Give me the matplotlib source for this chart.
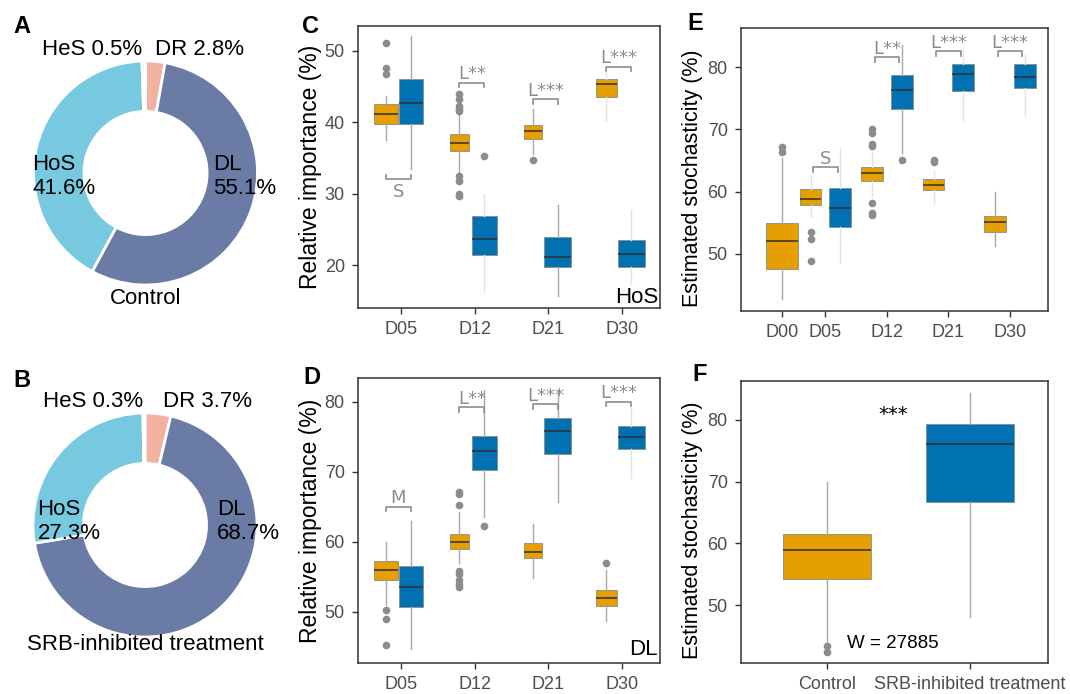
import matplotlib
matplotlib.use("Agg")
import matplotlib.pyplot as plt

plt.rcParams['font.family'] = ['Liberation Sans', 'DejaVu Sans']

W, H = 1070, 694

# ---- donut data (A, B)
parts = ['DR', 'DL', 'HoS', 'HeS']
control_pct = [2.8, 55.1, 41.6, 0.5]
srb_pct = [3.7, 68.7, 27.3, 0.3]
part_colors = ['#F2B2A0', '#6A7BA6', '#77C9DF', '#F7E1DA']

# ---- box stats: (whislo, q1, median, q3, whishi, outliers)
days_cd = ['D05', 'D12', 'D21', 'D30']
hos_ctrl = [
    (37.5, 39.7, 41.1, 42.5, 43.6, [51.1, 47.6, 46.7]),
    (33.0, 36.0, 37.1, 38.3, 41.2, [43.9, 43.2, 42.2, 41.8, 41.5, 32.5, 31.7, 30.0, 29.7]),
    (35.6, 37.6, 38.75, 39.55, 41.8, [34.7]),
    (40.2, 43.55, 45.3, 46.1, 47.3, []),
]
hos_srb = [
    (33.4, 39.8, 42.7, 46.0, 52.1, []),
    (16.3, 21.4, 23.7, 26.9, 30.0, [35.2]),
    (15.6, 19.7, 21.15, 23.95, 28.4, []),
    (17.4, 19.7, 21.5, 23.5, 27.7, []),
]
dl_ctrl = [
    (50.95, 54.6, 55.95, 57.25, 59.9, [50.2, 49.0, 45.3]),
    (56.9, 58.95, 59.9, 61.1, 64.3, [67.1, 66.8, 65.3, 55.8, 55.4, 54.5, 54.0, 53.6]),
    (54.8, 57.7, 58.6, 59.8, 62.5, []),
    (48.7, 50.8, 52.0, 53.1, 56.0, [56.9]),
]
dl_srb = [
    (44.6, 50.6, 53.6, 56.5, 63.0, []),
    (63.6, 70.3, 72.9, 75.1, 81.7, [62.2]),
    (65.7, 72.6, 75.8, 77.7, 81.7, []),
    (69.1, 73.3, 75.0, 76.5, 79.1, []),
]

days_e = ['D00', 'D05', 'D12', 'D21', 'D30']
sto_ctrl = [
    (42.7, 47.6, 52.0, 54.9, 65.4, [67.1, 66.3]),
    (56.0, 57.9, 58.8, 60.45, 62.5, [53.6, 52.4, 48.8]),
    (59.3, 61.75, 63.0, 63.9, 66.5, [70.0, 69.4, 67.7, 67.4, 58.15, 56.65, 56.3]),
    (58.15, 60.3, 61.1, 62.05, 63.3, [65.1, 64.7]),
    (51.3, 53.6, 55.05, 56.15, 59.9, []),
]
sto_srb = [
    None,
    (48.6, 54.4, 57.45, 60.55, 67.0, []),
    (66.2, 73.25, 76.35, 78.75, 83.6, [65.1]),
    (71.5, 76.2, 78.9, 80.55, 82.8, []),
    (72.3, 76.7, 78.4, 80.55, 82.0, []),
]

groups_f = ['Control', 'SRB-inhibited treatment']
sto_total = [
    (44.0, 54.2, 58.9, 61.45, 69.9, [43.4, 42.4]),
    (48.1, 66.65, 76.1, 79.35, 84.4, []),
]

# significance marks: (group index, bracket height, label)
sig_c = [(0, 32.0, 'S'), (1, 45.5, 'L**'), (2, 43.2, 'L***'), (3, 47.75, 'L***')]
sig_d = [(0, 65.0, 'M'), (1, 79.2, 'L**'), (2, 79.65, 'L***'), (3, 80.0, 'L***')]
sig_e = [(1, 63.9, 'S'), (2, 81.6, 'L**'), (3, 82.5, 'L***'), (4, 82.5, 'L***')]

ORANGE = '#E69F00'
BLUE = '#0072B2'
GREY = '#8C8C8C'


def px_axes(l, t, r, b):
    return fig.add_axes([l / W, 1 - b / H, (r - l) / W, (b - t) / H])


def style_axes(ax):
    for s in ax.spines.values():
        s.set_color('#333333')
        s.set_linewidth(1.1)
    ax.tick_params(length=4.5, width=1, color='#333333', pad=5,
                   labelsize=13, labelcolor='#4D4D4D')


def draw_box(ax, st, pos, width, color, faint=False):
    lo, q1, med, q3, hi, fl = st
    stats = [dict(whislo=lo, q1=q1, med=med, q3=q3, whishi=hi, fliers=fl)]
    ax.bxp(stats, positions=[pos], widths=[width], patch_artist=True,
           showcaps=False, manage_ticks=False,
           boxprops=dict(facecolor=color, edgecolor='#8A8A8A', linewidth=0.6),
           medianprops=dict(color='#2F2F2F', linewidth=1.1),
           whiskerprops=dict(color='#E3E3E3' if faint else '#A8A8A8', linewidth=1.0),
           flierprops=dict(marker='o', markerfacecolor=GREY,
                           markeredgecolor='none', markersize=5.5))


def bracket(ax, x0, x1, y, label, up=True):
    y0, y1 = ax.get_ylim()
    hpx = ax.get_position().height * H
    t = 4.5 * (y1 - y0) / hpx
    d = -t if up else t
    ax.plot([x0, x0, x1, x1], [y + d, y, y, y + d], color=GREY, lw=1.2)
    ax.annotate(label, ((x0 + x1) / 2, y), xytext=(0, 2.5 if up else -3),
                textcoords='offset points', ha='center',
                va='baseline' if up else 'top', fontsize=13, color=GREY,
                family='DejaVu Sans')


fig = plt.figure(figsize=(W / 100, H / 100), dpi=100)

# ---- donuts
donuts = [(control_pct, 'Control', 145.5, 173, -1.12,
           [(-1.01, -0.03), (0.60, -0.03)], (-0.03, 0.085)),
          (srb_pct, 'SRB-inhibited treatment', 145, 525, -1.07,
           [(-0.96, 0.03), (0.64, 0.03)], (-0.02, 0.16))]
R = 112
for pct, title, cx, cy, ty, mid_pos, top_x in donuts:
    ax = px_axes(cx - R, cy - R, cx + R, cy + R)
    ax.pie(pct, colors=part_colors, startangle=90, counterclock=False, radius=1,
           wedgeprops=dict(width=0.45, edgecolor='white', linewidth=2))
    ax.set_xlim(-1, 1)
    ax.set_ylim(-1, 1)
    ax.set_aspect('equal')
    ax.axis('off')
    ax.text(mid_pos[0][0], mid_pos[0][1], f'{parts[2]}\n{pct[2]}%', ha='left',
            va='center', fontsize=16, linespacing=1.2)
    ax.text(mid_pos[1][0], mid_pos[1][1], f'{parts[1]}\n{pct[1]}%', ha='left',
            va='center', fontsize=16, linespacing=1.2)
    ax.text(top_x[0], 1.107, f'{parts[3]} {pct[3]}%', ha='right', va='center', fontsize=16)
    ax.text(top_x[1], 1.107, f'{parts[0]} {pct[0]}%', ha='left', va='center', fontsize=16)
    ax.text(0, ty, title, ha='center', va='center', fontsize=16)

# ---- C and D
w_ctrl = [0.33, 0.25, 0.25, 0.29]
w_srb = [0.33, 0.34, 0.37, 0.37]
faint_srb_c = [False, True, False, True]
faint_ctrl_c = [False, False, False, True]
faint_srb_d = [False, False, False, True]

panels_cd = [
    (px_axes(358, 26, 660, 308), hos_ctrl, hos_srb, (13.98, 53.46), [20, 30, 40, 50],
     sig_c, 'HoS', faint_ctrl_c, faint_srb_c, 0.018),
    (px_axes(358, 378, 660, 663), dl_ctrl, dl_srb, (42.67, 83.39), [50, 60, 70, 80],
     sig_d, 'DL', [False] * 4, faint_srb_d, 0.028),
]
for ax, ctrl, srb, ylim, yt, sig, tag, fc, fs, tag_y in panels_cd:
    ax.set_xlim(0.41, 4.52)
    ax.set_ylim(*ylim)
    for i in range(len(days_cd)):
        draw_box(ax, ctrl[i], i + 1 - 0.21, w_ctrl[i], ORANGE, fc[i])
        draw_box(ax, srb[i], i + 1 + 0.13, w_srb[i], BLUE, fs[i])
    ax.set_xticks(range(1, len(days_cd) + 1))
    ax.set_xticklabels(days_cd)
    ax.set_yticks(yt)
    style_axes(ax)
    ax.set_ylabel('Relative importance (%)', fontsize=16.5)
    ax.yaxis.set_label_coords(-0.12, 0.5)
    for gi, y, lab in sig:
        bracket(ax, gi + 1 - 0.21, gi + 1 + 0.13, y, lab, up=(lab != 'S'))
    ax.text(0.993, tag_y, tag, transform=ax.transAxes, ha='right', va='baseline',
            fontsize=16)

# ---- E
pos_e = [0.3, 1, 2, 3, 4]
faint_ctrl_e = [False, True, True, True, False]
faint_srb_e = [False, True, False, True, True]
ax = px_axes(741, 28, 1048, 311)
ax.set_xlim(-0.37, 4.62)
ax.set_ylim(40.84, 86.27)
for i, p in enumerate(pos_e):
    if sto_srb[i] is None:
        draw_box(ax, sto_ctrl[i], p, 0.52, ORANGE, faint_ctrl_e[i])
    else:
        draw_box(ax, sto_ctrl[i], p - 0.24, 0.35, ORANGE, faint_ctrl_e[i])
        draw_box(ax, sto_srb[i], p + 0.24, 0.36, BLUE, faint_srb_e[i])
ax.set_xticks(pos_e)
ax.set_xticklabels(days_e)
ax.set_yticks([50, 60, 70, 80])
style_axes(ax)
ax.set_ylabel('Estimated stochasticity (%)', fontsize=15.5)
ax.yaxis.set_label_coords(-0.124, 0.47)
for gi, y, lab in sig_e:
    bracket(ax, pos_e[gi] - 0.2, pos_e[gi] + 0.2, y, lab)

# ---- F
ax = px_axes(741, 381, 1048, 663)
ax.set_xlim(0.4, 2.545)
ax.set_ylim(40.6, 86.32)
draw_box(ax, sto_total[0], 1, 0.61, ORANGE)
draw_box(ax, sto_total[1], 2, 0.61, BLUE)
ax.set_xticks([1, 2])
ax.set_xticklabels(groups_f)
ax.set_yticks([50, 60, 70, 80])
style_axes(ax)
ax.set_ylabel('Estimated stochasticity (%)', fontsize=15.5)
ax.yaxis.set_label_coords(-0.124, 0.47)
ax.text(1.46, 80.0, '***', ha='center', va='baseline', fontsize=14,
        family='DejaVu Sans')
ax.text(1.46, 43.0, 'W = 27885', ha='center', va='baseline', fontsize=13.5)

# ---- panel letters
for lab, x, y in [('A', 13, 33), ('B', 13, 387), ('C', 302, 33),
                  ('D', 303, 384), ('E', 687, 30), ('F', 692, 381)]:
    fig.text(x / W, 1 - y / H, lab, fontsize=17, fontweight='bold', va='baseline')

fig.savefig('out.png', dpi=100)
